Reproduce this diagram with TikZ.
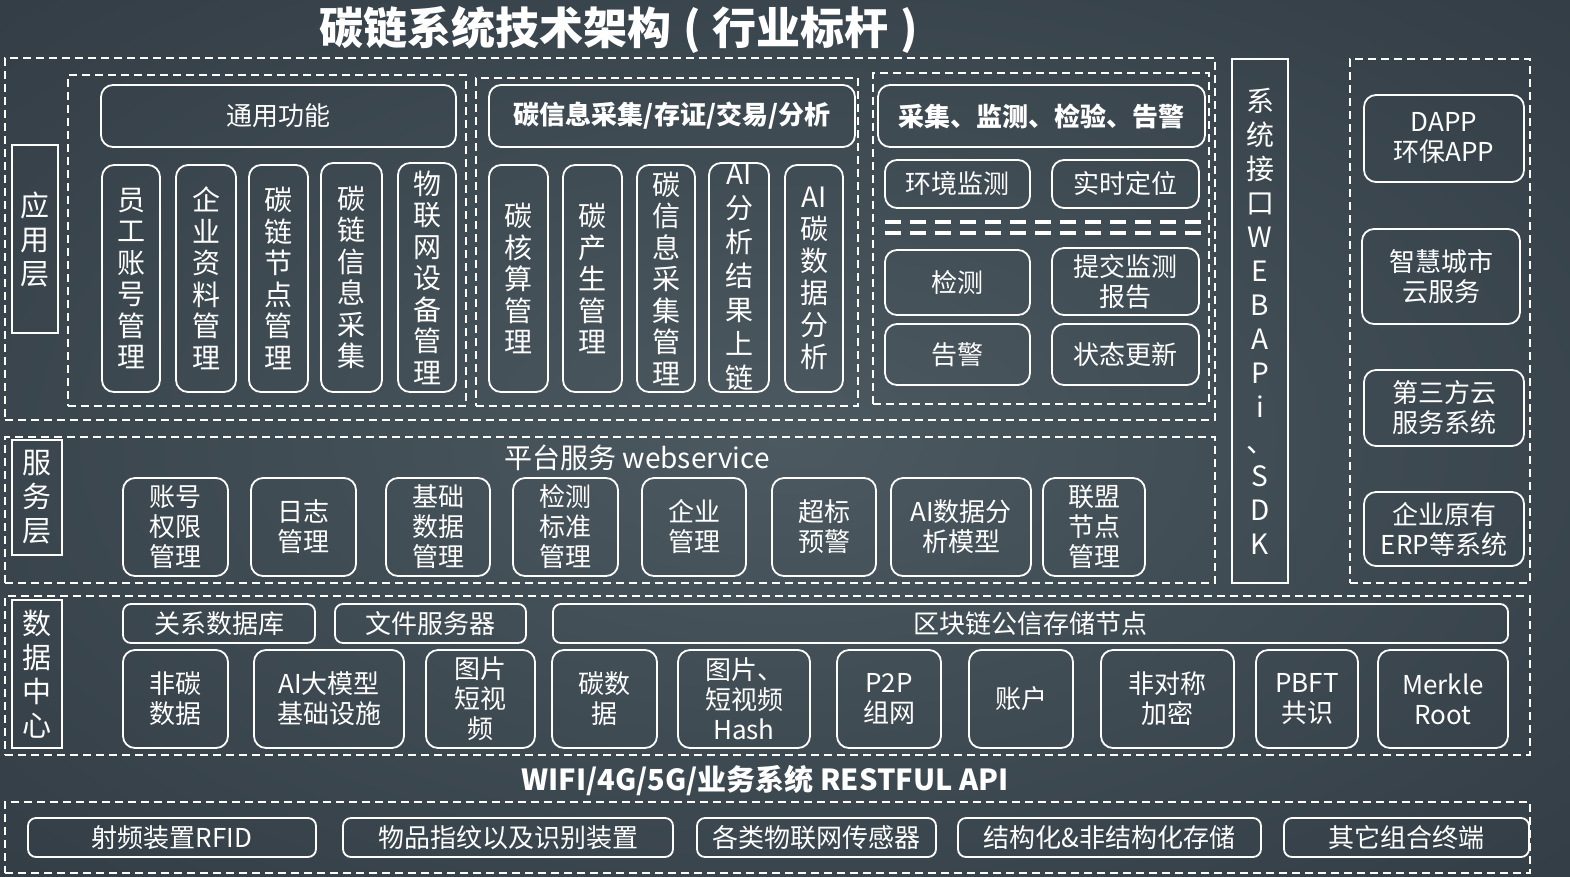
\documentclass[tikz,border=0pt]{standalone}
\usepackage{fontspec}
\setmainfont{Noto Sans CJK SC}
\definecolor{bgin}{RGB}{76,89,97}
\definecolor{bgmid}{RGB}{54,65,73}
\definecolor{bgout}{RGB}{31,39,46}
\pgfdeclareradialshading{bgshade}{\pgfpoint{0bp}{0bp}}{color(0bp)=(bgin); color(30bp)=(bgmid); color(72bp)=(bgout)}
\begin{document}
\begin{tikzpicture}[x=1pt,y=-1pt,
  ln/.style={draw=white, line width=1.8pt},
  rb/.style={ln, rounded corners=12pt, inner sep=0pt, text=white, align=center, font=\fontsize{26}{30}\selectfont},
  hb/.style={rb, font=\fontsize{26}{30}\bfseries\selectfont},
  vb/.style={rb, font=\fontsize{28}{31.5}\selectfont},
  sq/.style={ln, inner sep=0pt, text=white, align=center},
  lbl/.style={sq, font=\fontsize{29}{34}\selectfont},
  db/.style={draw=white, line width=1.6pt, dash pattern=on 8pt off 5pt, inner sep=0pt},
  thick dash/.style={draw=white, line width=4pt, dash pattern=on 16pt off 9pt},
  txt/.style={text=white, inner sep=0pt}]
\newcommand\bx[7]{\node[#1, minimum width={#5-#3}, minimum height={#6-#4}] (#2) at ({(#3+#5)/2},{(#4+#6)/2}) {#7};}
\useasboundingbox (0,0) rectangle (1570,876);
\shade[shading=bgshade] (0,0) rectangle (1570,876);
% title
\node[txt, font=\fontsize{44}{44}\bfseries\selectfont] (title) at (619,30) {碳链系统技术架构\hspace{12pt}(\hspace{12pt}行业标杆\hspace{12pt})};
% ===== application layer
\bx{db}{app}{5}{58}{1215}{420}{}
\bx{lbl}{applbl}{12}{145}{58}{333}{应\\用\\层}
\bx{db}{appA}{68}{75}{466}{406}{}
\bx{db}{appB}{476}{78}{858}{406}{}
\bx{db}{appC}{873}{73}{1209}{404}{}
\bx{rb}{ty}{101}{85}{456}{147}{通用功能}
\bx{vb}{a1}{102}{165}{160}{392}{员\\工\\账\\号\\管\\理}
\bx{vb}{a2}{176}{165}{236}{392}{企\\业\\资\\料\\管\\理}
\bx{vb}{a3}{249}{165}{308}{392}{碳\\链\\节\\点\\管\\理}
\bx{vb}{a4}{321}{163}{382}{392}{碳\\链\\信\\息\\采\\集}
\bx{vb}{a5}{398}{163}{456}{392}{物\\联\\网\\设\\备\\管\\理}
\bx{hb}{tx}{489}{85}{855}{147}{碳信息采集/存证/交易/分析}
\bx{vb}{b1}{489}{165}{548}{392}{碳\\核\\算\\管\\理}
\bx{vb}{b2}{563}{165}{622}{392}{碳\\产\\生\\管\\理}
\bx{vb}{b3}{637}{165}{695}{392}{碳\\信\\息\\采\\集\\管\\理}
\bx{rb, font=\fontsize{28}{34}\selectfont}{b4}{709}{163}{769}{392}{AI\\分\\析\\结\\果\\上\\链}
\bx{rb, font=\fontsize{28}{32}\selectfont}{b5}{785}{165}{843}{392}{AI\\碳\\数\\据\\分\\析}
\bx{hb}{cj}{878}{85}{1205}{147}{采集、监测、检验、告警}
\bx{rb}{c1}{885}{160}{1030}{208}{环境监测}
\bx{rb}{c2}{1052}{160}{1199}{208}{实时定位}
\draw[thick dash] (885,222) -- (1207,222);
\draw[thick dash] (885,233) -- (1207,233);
\bx{rb}{c3}{885}{250}{1030}{315}{检测}
\bx{rb}{c4}{1052}{248}{1199}{315}{提交监测\\报告}
\bx{rb}{c5}{885}{324}{1030}{385}{告警}
\bx{rb}{c6}{1052}{324}{1199}{385}{状态更新}
% ===== system interface
\bx{sq, font=\fontsize{28}{34.1}\selectfont}{api}{1232}{59}{1288}{583}{系\\统\\接\\口\\W\\E\\B\\A\\P\\i\\、\\S\\D\\K}
% ===== right column
\bx{db}{ext}{1350}{59}{1530}{583}{}
\bx{rb}{r1}{1364}{95}{1524}{182}{DAPP\\环保APP}
\bx{rb}{r2}{1362}{229}{1520}{324}{智慧城市\\云服务}
\bx{rb}{r3}{1364}{370}{1524}{446}{第三方云\\服务系统}
\bx{rb}{r4}{1364}{492}{1524}{566}{企业原有\\ERP等系统}
% ===== service layer
\bx{db}{svc}{5}{437}{1215}{583}{}
\bx{lbl}{svclbl}{12}{440}{62}{555}{服\\务\\层}
\node[txt, font=\fontsize{28}{28}\selectfont] (svct) at (637,458) {平台服务 webservice};
\bx{rb}{s1}{123}{478}{228}{576}{账号\\权限\\管理}
\bx{rb}{s2}{251}{478}{356}{576}{日志\\管理}
\bx{rb}{s3}{386}{478}{490}{576}{基础\\数据\\管理}
\bx{rb}{s4}{513}{478}{618}{576}{检测\\标准\\管理}
\bx{rb}{s5}{642}{478}{746}{576}{企业\\管理}
\bx{rb}{s6}{772}{478}{876}{576}{超标\\预警}
\bx{rb}{s7}{891}{478}{1031}{576}{AI数据分\\析模型}
\bx{rb}{s8}{1043}{478}{1145}{576}{联盟\\节点\\管理}
% ===== data center
\bx{db}{dc}{5}{596}{1530}{755}{}
\bx{lbl}{dclbl}{12}{600}{62}{748}{数\\据\\中\\心}
\bx{rb, rounded corners=8pt}{d1}{123}{604}{315}{643}{关系数据库}
\bx{rb, rounded corners=8pt}{d2}{335}{604}{526}{643}{文件服务器}
\bx{rb, rounded corners=8pt}{d3}{553}{604}{1508}{643}{区块链公信存储节点}
\bx{rb}{e1}{123}{650}{228}{748}{非碳\\数据}
\bx{rb}{e2}{254}{650}{404}{748}{AI大模型\\基础设施}
\bx{rb}{e3}{426}{650}{535}{748}{图片\\短视\\频}
\bx{rb}{e4}{552}{650}{657}{748}{碳数\\据}
\bx{rb}{e5}{678}{650}{810}{748}{图片、\\短视频\\Hash}
\bx{rb}{e6}{837}{650}{941}{748}{P2P\\组网}
\bx{rb}{e7}{969}{650}{1073}{748}{账户}
\bx{rb}{e8}{1101}{650}{1234}{748}{非对称\\加密}
\bx{rb}{e9}{1256}{650}{1358}{748}{PBFT\\共识}
\bx{rb}{e10}{1378}{650}{1508}{748}{Merkle\\Root}
% ===== transport
\node[txt, font=\fontsize{29}{29}\bfseries\selectfont] (net) at (765,781) {WIFI/4G/5G/业务系统 RESTFUL API};
% ===== device layer
\bx{db}{dev}{5}{802}{1530}{873}{}
\bx{rb, rounded corners=8pt}{f1}{28}{818}{316}{857}{射频装置RFID}
\bx{rb, rounded corners=8pt}{f2}{343}{818}{673}{857}{物品指纹以及识别装置}
\bx{rb, rounded corners=8pt}{f3}{697}{818}{936}{857}{各类物联网传感器}
\bx{rb, rounded corners=8pt}{f4}{958}{818}{1261}{857}{结构化\&非结构化存储}
\bx{rb, rounded corners=8pt}{f5}{1284}{818}{1529}{857}{其它组合终端}
\end{tikzpicture}
\end{document}
